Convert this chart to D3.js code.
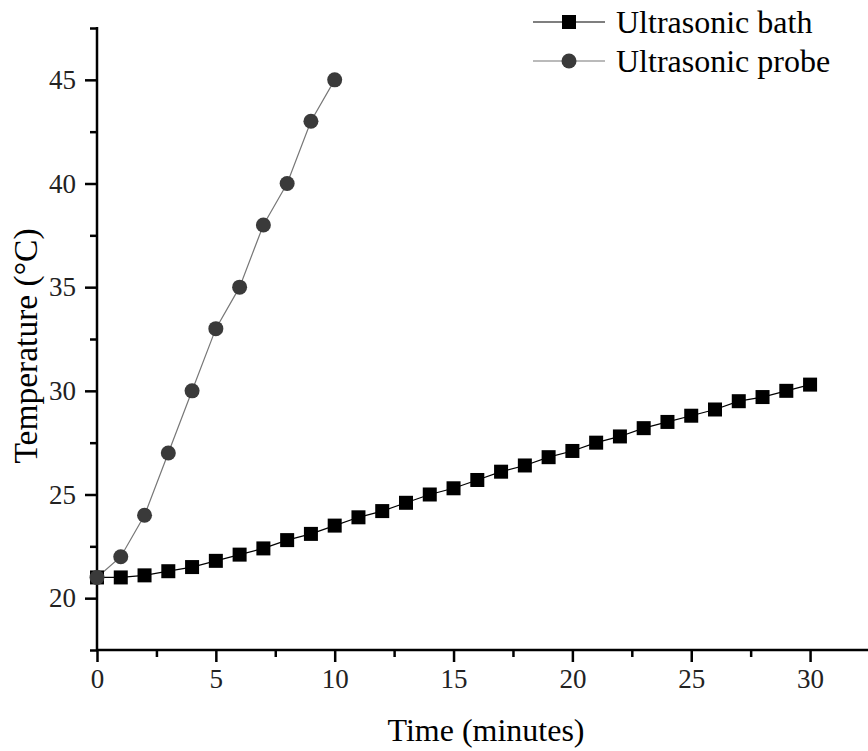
<!DOCTYPE html>
<html><head><meta charset="utf-8">
<script src="https://cdn.jsdelivr.net/npm/d3@7"></script>
<style>body{margin:0;background:#fff}svg{display:block}text{font-family:"Liberation Serif","Times New Roman",serif}</style>
</head><body>
<svg id="c" width="868" height="751"></svg>
<script>
const bathTime = [0,1,2,3,4,5,6,7,8,9,10,11,12,13,14,15,16,17,18,19,20,21,22,23,24,25,26,27,28,29,30];
const bathTemp = [21.0,21.0,21.1,21.3,21.5,21.8,22.1,22.4,22.8,23.1,23.5,23.9,24.2,24.6,25.0,25.3,25.7,26.1,26.4,26.8,27.1,27.5,27.8,28.2,28.5,28.8,29.1,29.5,29.7,30.0,30.3];
const probeTime = [0,1,2,3,4,5,6,7,8,9,10];
const probeTemp = [21,22,24,27,30,33,35,38,40,43,45];
const xTicks = [0,5,10,15,20,25,30];
const yTicks = [20,25,30,35,40,45];
const seriesNames = ["Ultrasonic bath","Ultrasonic probe"];

const svg = d3.select("#c");
const x = d3.scaleLinear().domain([0,32.5]).range([97,869.5]);
const y = d3.scaleLinear().domain([17.5,47.5]).range([650,28]);
const FF = "'Liberation Serif','Times New Roman',serif";

// x axis
const gx = svg.append("g").attr("transform","translate(0,650)");
gx.append("g").call(d3.axisBottom(x).tickValues(d3.range(2.5,33,5)).tickSize(7).tickFormat(""))
  .call(g=>g.select(".domain").remove());
gx.append("g").call(d3.axisBottom(x).tickValues(xTicks).tickSize(12).tickPadding(7).tickFormat(d3.format("d")))
  .attr("font-family",FF).attr("font-size",27)
  .call(g=>g.select(".domain").remove());
gx.append("line").attr("x1",96).attr("x2",868).attr("stroke","#000").attr("stroke-width",2.5);
// y axis
const gy = svg.append("g").attr("transform","translate(97,0)");
gy.append("g").call(d3.axisLeft(y).tickValues([17.5,22.5,27.5,32.5,37.5,42.5,47.5]).tickSize(7).tickFormat(""))
  .call(g=>g.select(".domain").remove());
gy.append("g").call(d3.axisLeft(y).tickValues(yTicks).tickSize(12).tickPadding(9).tickFormat(d3.format("d")))
  .attr("font-family",FF).attr("font-size",27)
  .call(g=>g.select(".domain").remove());
gy.append("line").attr("y1",27).attr("y2",651).attr("stroke","#000").attr("stroke-width",2.5);
svg.selectAll(".tick line").attr("stroke","#000").attr("stroke-width",2.5);
svg.selectAll(".tick text").attr("fill","#222");

// titles
svg.append("text").attr("x",486).attr("y",741).attr("text-anchor","middle").attr("font-size",32).text("Time (minutes)");
svg.append("text").attr("transform","translate(37,346) rotate(-90)").attr("text-anchor","middle").attr("font-size",33.5).text("Temperature (°C)");

// lines
const line = d3.line().x(d=>x(d[0])).y(d=>y(d[1]));
const bath = bathTime.map((t,i)=>[t,bathTemp[i]]);
const probe = probeTime.map((t,i)=>[t,probeTemp[i]]);
svg.append("path").datum(probe).attr("d",line).attr("fill","none").attr("stroke","#777").attr("stroke-width",1.2);
svg.append("path").datum(bath).attr("d",line).attr("fill","none").attr("stroke","#000").attr("stroke-width",1.2);
svg.selectAll(".sq").data(bath).join("rect").attr("x",d=>x(d[0])-7).attr("y",d=>y(d[1])-7).attr("width",14).attr("height",14).attr("fill","#000");
svg.selectAll(".ci").data(probe).join("circle").attr("cx",d=>x(d[0])).attr("cy",d=>y(d[1])).attr("r",7.5).attr("fill","#3a3a3a");

// legend
const lg = svg.append("g");
lg.append("line").attr("x1",533).attr("x2",605).attr("y1",22).attr("y2",22).attr("stroke","#000").attr("stroke-width",1.2);
lg.append("rect").attr("x",562).attr("y",15).attr("width",14).attr("height",14).attr("fill","#000");
lg.append("text").attr("x",616).attr("y",33).attr("font-size",32).text(seriesNames[0]);
lg.append("line").attr("x1",533).attr("x2",605).attr("y1",61).attr("y2",61).attr("stroke","#777").attr("stroke-width",1.2);
lg.append("circle").attr("cx",569).attr("cy",61).attr("r",7.5).attr("fill","#3a3a3a");
lg.append("text").attr("x",616).attr("y",72).attr("font-size",32).text(seriesNames[1]);
</script>
</body></html>
